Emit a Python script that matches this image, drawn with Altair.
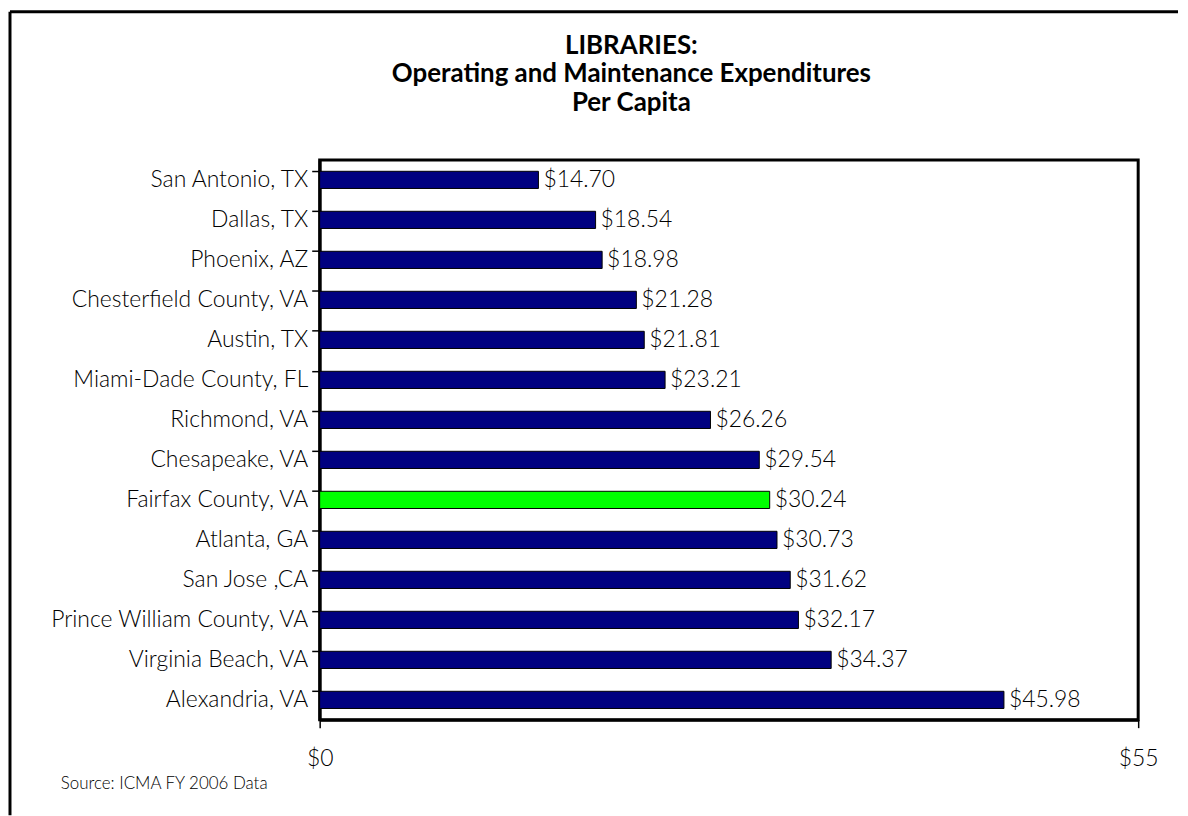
import altair as alt
import pandas as pd

cities = ["San Antonio, TX", "Dallas, TX", "Phoenix, AZ", "Chesterfield County, VA",
          "Austin, TX", "Miami-Dade County, FL", "Richmond, VA", "Chesapeake, VA",
          "Fairfax County, VA", "Atlanta, GA", "San Jose ,CA", "Prince William County, VA",
          "Virginia Beach, VA", "Alexandria, VA"]
values = [14.70, 18.54, 18.98, 21.28, 21.81, 23.21, 26.26, 29.54, 30.24, 30.73,
          31.62, 32.17, 34.37, 45.98]
highlight = ["Fairfax County, VA"]
x_ticks = [0, 55]
title_lines = ["LIBRARIES:", "Operating and Maintenance Expenditures", "Per Capita"]
source_note = "Source: ICMA FY 2006 Data"

FONT = "Lato"
W, H = 822, 562
LABEL_SIZE = 23

df = pd.DataFrame({"city": cities, "value": values})
df["hl"] = df["city"].isin(highlight)

y_enc = alt.Y("city:N", sort=cities, title=None,
              scale=alt.Scale(paddingInner=0.57, paddingOuter=0.28),
              axis=alt.Axis(bandPosition=0, tickSize=8, tickColor="black", tickWidth=1.5,
                            domainColor="black", domainWidth=3, labelFont=FONT,
                            labelFontSize=LABEL_SIZE, labelColor="black", labelPadding=4,
                            labelLimit=0, labelFontWeight=300))
x_enc = alt.X("value:Q", title=None,
              scale=alt.Scale(domain=[0, 55], nice=False, zero=True),
              axis=alt.Axis(values=x_ticks, format="$.0f", tickSize=8, tickColor="black",
                            tickWidth=1.5, domainColor="black", domainWidth=3, grid=False,
                            labelFont=FONT, labelFontSize=LABEL_SIZE, labelColor="black",
                            labelPadding=20, labelFlush=False, labelFontWeight=300))

base = alt.Chart(df)
bars = base.mark_bar(stroke="black", strokeWidth=1).encode(
    y=y_enc, x=x_enc,
    color=alt.condition("datum.hl", alt.value("#00FF00"), alt.value("#000080")),
)
labels = base.mark_text(align="left", baseline="middle", dx=5, font=FONT,
                        fontSize=LABEL_SIZE, fontWeight=300, color="black").encode(
    y=alt.Y("city:N", sort=cities), x="value:Q", text=alt.Text("value:Q", format="$.2f"))

one = pd.DataFrame({"t": [source_note]})
note = alt.Chart(one).mark_text(align="left", baseline="middle", font=FONT, fontSize=17,
                                fontWeight=300, color="black").encode(
    text="t:N", x=alt.value(-260), y=alt.value(H + 65))

title = alt.Chart(pd.DataFrame({"t": ["\n".join(title_lines)]})).mark_text(
    align="center", baseline="top", font=FONT, fontSize=26, fontWeight="bold",
    color="black", lineBreak="\n", lineHeight=29).encode(
    text="t:N", x=alt.value(313), y=alt.value(-128))

frame_top = alt.Chart(one).mark_rule(color="black", strokeWidth=3).encode(
    x=alt.value(-311), x2=alt.value(862), y=alt.value(-149))
frame_left = alt.Chart(one).mark_rule(color="black", strokeWidth=3).encode(
    x=alt.value(-311), y=alt.value(-149), y2=alt.value(H + 96))

chart = alt.layer(bars, labels, note, title, frame_top, frame_left).properties(
    width=W, height=H,
    padding={"left": 0, "top": 0, "right": 0, "bottom": 0},
).configure(background="white").configure_view(stroke="black", strokeWidth=3)

chart.save("out.html", embed_options={"renderer": "svg", "actions": False})
